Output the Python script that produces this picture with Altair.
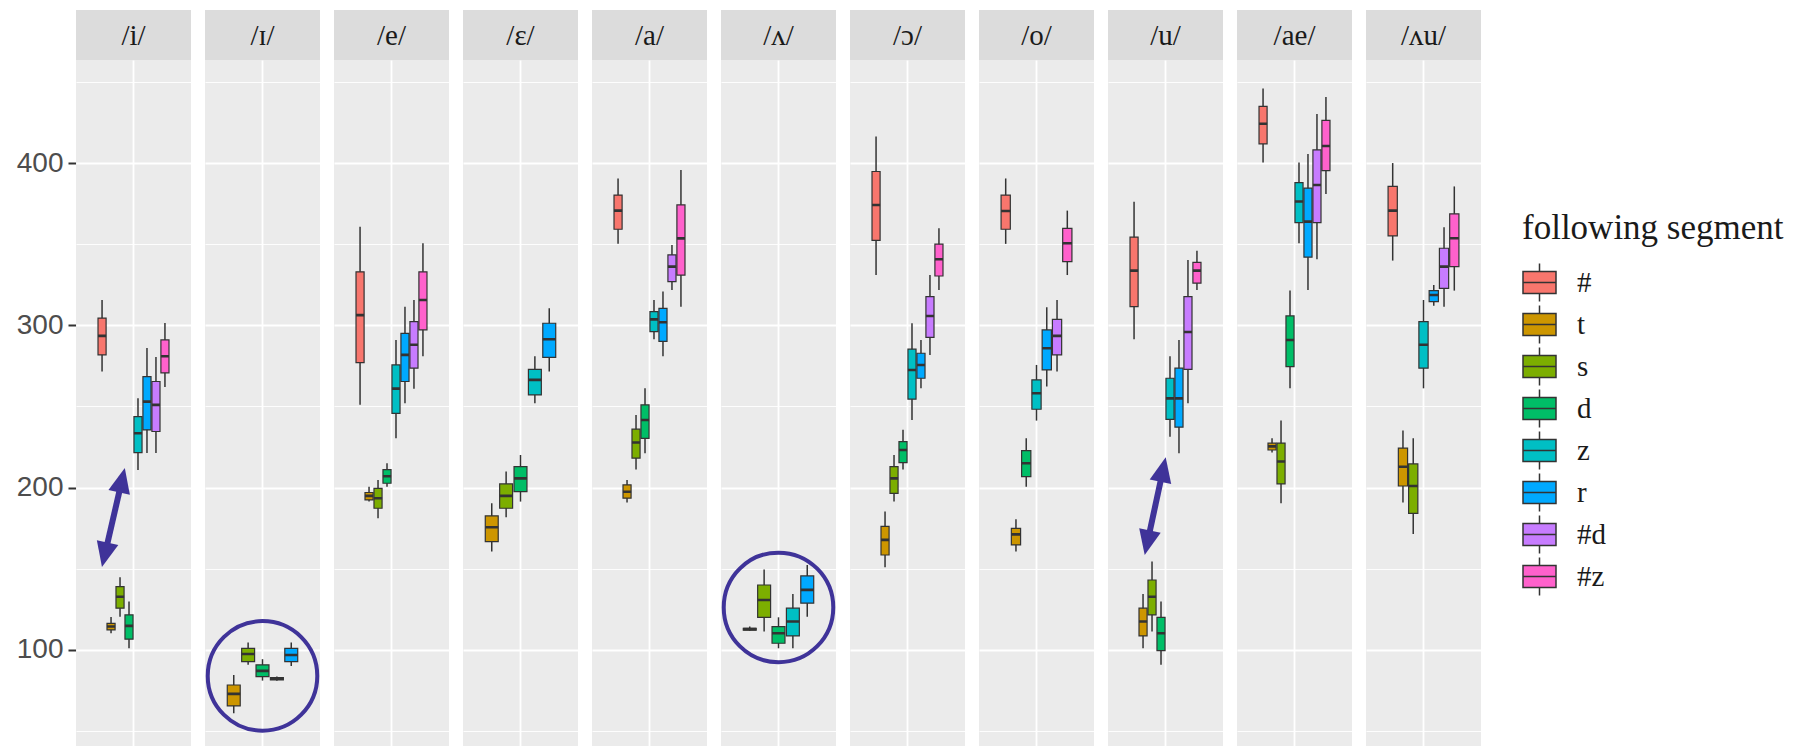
import math
import altair as alt
import pandas as pd

# Facet order, following-segment order and the default ggplot hue palette
vowels = ["/i/", "/ɪ/", "/e/", "/ɛ/", "/a/", "/ʌ/", "/ɔ/", "/o/", "/u/", "/ae/", "/ʌu/"]
segments = ["#", "t", "s", "d", "z", "r", "#d", "#z"]
seg_colors = ["#F8766D", "#CD9600", "#7CAE00", "#00BE67", "#00BFC4", "#00A9FF", "#C77CFF", "#FF61CC"]

# Box statistics per vowel: (segment, lower whisker, Q1, median, Q3, upper whisker)
i_stats = [("#", 271.5, 281.8, 293.5, 304.5, 315.6), ("t", 110.3, 112.3, 114.4, 116.4, 120.3),
           ("s", 120.5, 125.7, 132.8, 139.0, 144.8), ("d", 101.0, 106.6, 114.8, 121.6, 129.8),
           ("z", 210.9, 221.6, 233.5, 243.8, 255.0), ("r", 221.4, 235.6, 253.0, 268.4, 286.0),
           ("#d", 221.4, 234.6, 251.0, 265.4, 280.5), ("#z", 262.0, 270.7, 281.0, 291.0, 301.5)]
ih_stats = [("t", 61.0, 65.5, 72.9, 78.4, 84.6), ("s", 90.8, 92.8, 97.5, 101.0, 104.5),
            ("d", 81.1, 83.6, 87.1, 90.8, 94.3), ("z", 81.0, 81.6, 82.3, 83.0, 83.6),
            ("r", 90.1, 92.8, 96.9, 101.0, 104.5)]
e_stats = [("#", 251.0, 277.0, 306.3, 333.0, 360.8), ("t", 191.4, 192.4, 194.9, 197.0, 200.6),
           ("s", 181.1, 187.3, 193.5, 199.6, 204.7), ("d", 200.6, 202.7, 207.0, 211.1, 215.0),
           ("z", 230.4, 245.8, 261.0, 275.6, 291.0), ("r", 252.0, 265.4, 281.8, 295.0, 311.5),
           ("#d", 261.0, 273.6, 288.0, 302.3, 315.6), ("#z", 281.0, 297.2, 315.6, 333.0, 350.6)]
eh_stats = [("t", 160.6, 166.7, 175.6, 182.6, 190.4), ("s", 181.7, 187.3, 194.9, 202.3, 210.0),
            ("d", 191.4, 197.5, 205.7, 212.9, 220.1), ("z", 252.0, 257.1, 266.4, 272.9, 281.0),
            ("r", 271.5, 280.3, 291.4, 301.3, 310.5)]
a_stats = [("#", 350.2, 359.2, 370.7, 380.3, 390.5), ("t", 190.8, 193.5, 197.5, 201.7, 204.7),
           ("s", 211.1, 218.2, 227.8, 236.0, 244.8), ("d", 221.2, 230.4, 241.7, 251.0, 261.2),
           ("z", 291.4, 296.1, 303.7, 308.4, 315.6), ("r", 281.0, 290.1, 301.9, 310.5, 320.8),
           ("#d", 321.8, 326.9, 336.2, 343.4, 349.5), ("#z", 311.5, 331.0, 353.6, 374.2, 395.7)]
uh_stats = [("t", 111.8, 112.2, 112.8, 113.3, 114.5), ("s", 111.3, 120.1, 130.8, 140.0, 149.6),
            ("d", 101.0, 104.1, 110.3, 114.4, 120.1), ("z", 101.0, 108.6, 117.5, 125.7, 134.5),
            ("r", 120.5, 128.8, 137.0, 145.6, 152.4)]
oh_stats = [("#", 331.0, 352.3, 374.2, 394.8, 416.3), ("t", 150.9, 158.5, 167.8, 176.1, 185.3),
            ("s", 191.4, 196.5, 205.7, 212.9, 220.1), ("d", 211.1, 215.4, 223.2, 228.4, 235.6),
            ("z", 241.7, 254.5, 272.5, 285.3, 301.3), ("r", 261.2, 267.4, 275.6, 282.8, 291.0),
            ("#d", 281.8, 292.6, 305.8, 317.7, 331.0), ("#z", 321.8, 330.4, 340.7, 350.0, 359.8)]
o_stats = [("#", 350.2, 359.2, 370.5, 380.3, 390.5), ("t", 160.6, 164.7, 171.2, 174.9, 180.5),
           ("d", 200.6, 206.8, 215.0, 222.8, 230.4), ("z", 241.3, 248.3, 258.2, 266.4, 275.6),
           ("r", 262.3, 272.5, 285.9, 297.2, 311.1), ("#d", 271.5, 281.8, 293.5, 303.7, 315.6),
           ("#z", 331.0, 339.3, 350.6, 359.8, 370.7)]
u_stats = [("#", 291.4, 311.5, 333.7, 354.3, 376.2), ("t", 101.0, 108.6, 117.5, 125.7, 134.5),
           ("s", 111.3, 121.6, 132.8, 143.1, 154.5), ("d", 90.8, 99.6, 110.3, 120.1, 129.8),
           ("z", 231.4, 242.1, 255.0, 267.4, 281.0), ("r", 221.2, 237.3, 255.0, 273.6, 291.0),
           ("#d", 252.0, 272.9, 295.9, 317.7, 340.3), ("#z", 321.8, 326.0, 333.7, 338.8, 346.0)]
ae_stats = [("#", 400.3, 411.8, 424.2, 434.9, 446.0), ("t", 221.6, 223.2, 225.4, 227.4, 230.4),
            ("s", 190.4, 202.3, 216.1, 227.4, 241.3), ("d", 261.2, 274.6, 291.0, 305.8, 321.4),
            ("z", 350.6, 363.3, 376.3, 388.0, 400.3), ("r", 321.8, 342.0, 363.9, 384.5, 405.6),
            ("#d", 340.7, 363.3, 386.5, 408.1, 430.3), ("#z", 380.9, 395.3, 410.5, 426.3, 440.7)]
au_stats = [("#", 339.9, 355.1, 370.7, 385.6, 400.0), ("t", 190.8, 201.0, 212.9, 224.4, 235.2),
            ("s", 171.5, 184.2, 201.0, 214.6, 230.4), ("z", 261.2, 273.6, 288.0, 302.3, 315.6),
            ("r", 312.0, 314.6, 318.7, 321.4, 324.9), ("#d", 311.5, 322.8, 336.2, 347.5, 360.4),
            ("#z", 321.4, 336.2, 353.7, 368.7, 385.6)]
stats_by_vowel = [i_stats, ih_stats, e_stats, eh_stats, a_stats, uh_stats,
                  oh_stats, o_stats, u_stats, ae_stats, au_stats]

# Highlight circles: vowel and vertical centre
circle_vowels = ["/ɪ/", "/ʌ/"]
circle_y = [84.0, 126.2]

# Double-headed arrows: vowel, start (x in discrete-axis units, y) and end
arrow_vowels = ["/i/", "/u/"]
arrow_x0 = [0.671, 0.783]
arrow_y0 = [151.1, 158.5]
arrow_x1 = [0.909, 1.002]
arrow_y1 = [212.1, 218.7]

# Layout
PANEL_W, PANEL_H = 115, 686
STRIP_H = 50
Y_DOMAIN = [40.8, 463.5]
X_DOMAIN = [0.4, 1.6]
PURPLE = "#3F3399"
INK = "#333333"

rows = []
for v, stats in zip(vowels, stats_by_vowel):
    rows.append({"kind": "strip", "vowel": v})
    for seg, lo, q1, med, q3, hi in stats:
        rows.append({"kind": "box", "vowel": v, "seg": seg, "lo": lo, "q1": q1,
                     "med": med, "q3": q3, "hi": hi})
for v, cy in zip(circle_vowels, circle_y):
    rows.append({"kind": "circle", "vowel": v, "cy": cy})
px_x = PANEL_W / (X_DOMAIN[1] - X_DOMAIN[0])
px_y = PANEL_H / (Y_DOMAIN[1] - Y_DOMAIN[0])
for v, x0, y0, x1, y1 in zip(arrow_vowels, arrow_x0, arrow_y0, arrow_x1, arrow_y1):
    ang = math.degrees(math.atan2((x1 - x0) * px_x, (y1 - y0) * px_y))
    rows.append({"kind": "arrow", "vowel": v, "ax0": x0, "ay0": y0, "ax1": x1, "ay1": y1,
                 "ang_up": ang, "ang_down": ang + 180})
df = pd.DataFrame(rows)

is_box = "datum.kind === 'box'"
major = "datum.value % 100 === 0"

yscale = alt.Scale(domain=Y_DOMAIN, nice=False, zero=False)
yaxis = alt.Axis(
    title=None, values=list(range(50, 451, 50)), domain=False,
    labelExpr=f"{major} ? datum.label : ''",
    labelFont="Liberation Sans", labelFontSize=28, labelColor="#4D4D4D", labelPadding=5,
    tickSize=8, tickWidth=2,
    tickColor={"condition": {"test": major, "value": INK}, "value": "transparent"},
    gridColor="white",
    gridWidth={"condition": {"test": major, "value": 1.8}, "value": 0.9},
)
band = alt.Scale(paddingInner=0, paddingOuter=0.3)
x_plain = alt.X("vowel:N", scale=band, axis=None)
x_grid = alt.X("vowel:N", scale=band, axis=alt.Axis(
    title=None, labels=False, ticks=False, domain=False, grid=True,
    gridColor="white", gridWidth=1.8, bandPosition=0.5))
x_off = alt.XOffset("seg:N", sort=segments, scale=alt.Scale(paddingInner=0.1, paddingOuter=0.05))

legend_symbol = "M-1,-0.67H1V0.67H-1Z M-1,0H1 M0,-0.67V-1.15 M0,0.67V1.15"
head_path = "M0,0L0.88,2L-0.88,2Z"

base = alt.Chart()

strip_bg = base.transform_filter("datum.kind === 'strip'").mark_rect(color="#DCDCDC").encode(
    x=alt.value(0), x2=alt.value(PANEL_W), y=alt.value(-STRIP_H), y2=alt.value(0))
strip_txt = base.transform_filter("datum.kind === 'strip'").mark_text(
    font="Liberation Serif", fontSize=29, color="#1A1A1A", align="center", baseline="middle"
).encode(x=alt.value(PANEL_W / 2), y=alt.value(-STRIP_H / 2 + 1), text="vowel:N")

whiskers = base.transform_filter(is_box).mark_rule(color=INK, strokeWidth=1.5).encode(
    x=x_grid, xOffset=x_off,
    y=alt.Y("lo:Q", scale=yscale, axis=yaxis), y2="hi:Q")

boxes = base.transform_filter(is_box).mark_bar(stroke=INK, strokeWidth=1.2, opacity=1).encode(
    x=x_plain, xOffset=x_off,
    y=alt.Y("q1:Q", scale=yscale, axis=yaxis), y2="q3:Q",
    color=alt.Color("seg:N", scale=alt.Scale(domain=segments, range=seg_colors),
                    legend=alt.Legend(
                        title="following segment", orient="none", legendX=1446, legendY=151,
                        titleFont="Liberation Serif", titleFontSize=35, titleFontWeight="normal",
                        titleColor="#1A1A1A", titlePadding=19, titleLimit=500,
                        labelFont="Liberation Serif", labelFontSize=29, labelColor="#1A1A1A",
                        labelOffset=20, rowPadding=-3,
                        symbolType=legend_symbol, symbolSize=1089, symbolStrokeColor=INK,
                        symbolStrokeWidth=1.5, symbolOpacity=1)))

medians = base.transform_filter(is_box).mark_bar(fill=INK, stroke=INK, strokeWidth=2.6).encode(
    x=x_plain, xOffset=x_off,
    y=alt.Y("med:Q", scale=yscale, axis=yaxis), y2="med:Q")

circles = base.transform_filter("datum.kind === 'circle'").mark_point(
    shape="circle", filled=False, size=12000, strokeWidth=4, color=PURPLE, opacity=1
).encode(x=alt.X("vowel:N", axis=None), y=alt.Y("cy:Q", scale=yscale, axis=yaxis))

xq = alt.Scale(domain=X_DOMAIN, nice=False, zero=False)
arrows = base.transform_filter("datum.kind === 'arrow'")
shafts = arrows.transform_calculate(
    sx0="datum.ax0 + 0.2 * (datum.ax1 - datum.ax0)",
    sy0="datum.ay0 + 0.2 * (datum.ay1 - datum.ay0)",
    sx1="datum.ax1 - 0.2 * (datum.ax1 - datum.ax0)",
    sy1="datum.ay1 - 0.2 * (datum.ay1 - datum.ay0)",
).mark_rule(color=PURPLE, strokeWidth=6).encode(
    x=alt.X("sx0:Q", scale=xq, axis=None), x2="sx1:Q",
    y=alt.Y("sy0:Q", scale=yscale, axis=yaxis), y2="sy1:Q")
head_up = arrows.mark_point(shape=head_path, filled=True, size=625, color=PURPLE,
                            opacity=1, strokeWidth=0).encode(
    x=alt.X("ax1:Q", scale=xq, axis=None),
    y=alt.Y("ay1:Q", scale=yscale, axis=yaxis),
    angle=alt.Angle("ang_up:Q", scale=None))
head_down = arrows.mark_point(shape=head_path, filled=True, size=625, color=PURPLE,
                              opacity=1, strokeWidth=0).encode(
    x=alt.X("ax0:Q", scale=xq, axis=None),
    y=alt.Y("ay0:Q", scale=yscale, axis=yaxis),
    angle=alt.Angle("ang_down:Q", scale=None))

panel = alt.layer(
    strip_bg, strip_txt, whiskers, boxes, medians, circles, shafts, head_up, head_down
).resolve_scale(x="independent", xOffset="independent").properties(
    width=PANEL_W, height=PANEL_H)

chart = panel.facet(
    column=alt.Column("vowel:N", sort=vowels, header=alt.Header(title=None, labels=False)),
    data=df, spacing=14,
).resolve_scale(x="independent", xOffset="independent").properties(
    bounds="flush",
    padding={"left": 16, "top": 10, "right": 5, "bottom": 0},
    background="white",
).configure_view(stroke=None, fill="#EBEBEB")

chart.save("out.html", embed_options={"renderer": "svg", "actions": False})
